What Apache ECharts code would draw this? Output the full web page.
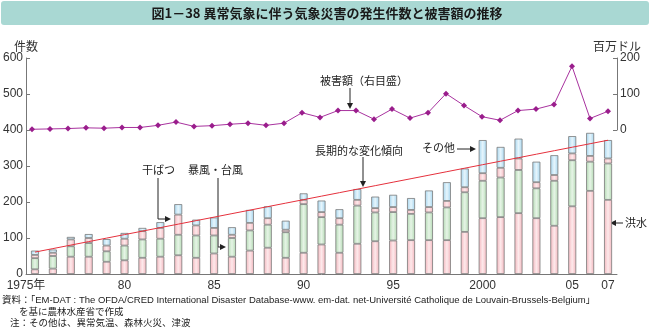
<!DOCTYPE html>
<html><head><meta charset="utf-8">
<script src="https://cdn.jsdelivr.net/npm/echarts@6/dist/echarts.min.js"></script>
<style>html,body{margin:0;padding:0;background:#fff}#c{width:650px;height:332px}</style>
</head><body><div id="c"></div>
<script>
const years = ['1975','1976','1977','1978','1979','1980','1981','1982','1983','1984','1985','1986','1987','1988','1989','1990','1991','1992','1993','1994','1995','1996','1997','1998','1999','2000','2001','2002','2003','2004','2005','2006','2007'];
const xTickLabels = ['1975年','','','','','80','','','','','85','','','','','90','','','','','95','','','','','2000','','','','','05','','07'];
const floods  = [13,15,48,48,34,38,45,48,52,45,57,48,65,73,45,59,82,59,84,91,93,94,94,94,117,155,158,169,155,134,188,231,206];
const storms  = [31,35,29,38,29,41,51,50,57,62,50,52,56,64,71,135,76,78,106,80,79,73,77,91,110,104,110,120,83,125,128,81,101];
const drought = [9,9,19,14,16,19,23,30,56,28,21,9,21,18,7,12,14,18,16,12,14,11,15,18,14,21,27,32,17,16,19,16,14];
const other   = [12,9,7,11,18,16,9,16,29,16,29,21,36,33,25,18,32,25,30,32,34,33,46,52,52,92,58,55,57,55,48,64,51];
const damage  = [2,3,4,6,5,7,7,13,22,10,12,16,19,13,19,48,35,54,54,30,58,33,48,101,68,37,27,54,58,71,177,32,52];
const countTicks = [0,100,200,300,400,500,600];
const damageTicks = [0,100,200];

// linear trend of total counts (least squares)
const totals = years.map((_, i) => floods[i] + storms[i] + drought[i] + other[i]);
const n = totals.length;
const mx = (n - 1) / 2;
const my = totals.reduce((a, b) => a + b, 0) / n;
let sxy = 0, sxx = 0;
totals.forEach((y, i) => { sxy += (i - mx) * (y - my); sxx += (i - mx) * (i - mx); });
const slope = sxy / sxx;
const trend = totals.map((_, i) => +(my + slope * (i - mx)).toFixed(2));

const FONT = '"Liberation Sans","Noto Sans CJK JP",sans-serif';
const JFONT = '"Noto Sans CJK JP",sans-serif';

function grad(edge, center) {
  return new echarts.graphic.LinearGradient(0, 0, 1, 0, [
    {offset: 0, color: edge}, {offset: 0.5, color: center}, {offset: 1, color: edge}]);
}
function barSeries(name, data, edge, center) {
  return {
    name, type: 'bar', stack: 'n', data, barWidth: 8, xAxisIndex: 0, yAxisIndex: 0,
    itemStyle: {color: grad(edge, center), borderColor: '#7a7a7a', borderWidth: 0.8},
    emphasis: {disabled: true}
  };
}
function txt(text, x, y, size, extra) {
  return Object.assign({type: 'text', silent: true, style: Object.assign({
    text, x, y, font: size + 'px ' + JFONT, fill: '#222',
    align: 'left', verticalAlign: 'middle', textAlign: 'left', textVerticalAlign: 'middle'}, extra || {})});
}
function line(points) {
  return {type: 'polyline', silent: true, shape: {points}, style: {stroke: '#222', lineWidth: 1, fill: null}};
}
function head(x, y, dir) {
  // dir: 'down','right','left'
  let pts;
  if (dir === 'down') pts = [[x - 3, y - 6], [x + 3, y - 6], [x, y]];
  else if (dir === 'right') pts = [[x - 6, y - 3], [x - 6, y + 3], [x, y]];
  else pts = [[x + 6, y - 3], [x + 6, y + 3], [x, y]];
  return {type: 'polygon', silent: true, shape: {points: pts}, style: {fill: '#222'}};
}

const chart = echarts.init(document.getElementById('c'), null, {renderer: 'canvas'});
const axisCommon = {
  axisLine: {show: true, lineStyle: {color: '#777', width: 1}},
  axisTick: {show: true, inside: true, length: 4, lineStyle: {color: '#777'}},
  splitLine: {show: false},
  axisLabel: {fontSize: 12, color: '#333', fontFamily: FONT, margin: 3},
};
chart.setOption({
  animation: false,
  textStyle: {fontFamily: FONT},
  grid: [
    {left: 23, right: 33, top: 58, bottom: 58},
    {left: 23, right: 33, top: 58, height: 72}
  ],
  xAxis: [
    {type: 'category', gridIndex: 0, data: years, boundaryGap: true,
     axisLine: {lineStyle: {color: '#777'}}, axisTick: {show: false},
     axisLabel: {interval: 0, fontSize: 12, color: '#333', fontFamily: FONT, margin: 6,
       formatter: (v, i) => i === 0 ? '{f|' + xTickLabels[i] + '}' : xTickLabels[i],
       rich: {f: {fontSize: 12, color: '#333', fontFamily: FONT, padding: [0, 18, 0, 0]}}}},
    {type: 'category', gridIndex: 1, data: years, boundaryGap: true, show: false}
  ],
  yAxis: [
    Object.assign({}, axisCommon, {type: 'value', gridIndex: 0, position: 'left',
      min: countTicks[0], max: countTicks[countTicks.length - 1], interval: 100,
      name: '件数', nameLocation: 'end', nameGap: 5,
      nameTextStyle: {fontSize: 12, color: '#333', fontFamily: JFONT, align: 'center'}}),
    Object.assign({}, axisCommon, {type: 'value', gridIndex: 1, position: 'right',
      min: damageTicks[0], max: damageTicks[damageTicks.length - 1], interval: 100,
      name: '百万ドル', nameLocation: 'end', nameGap: 5,
      nameTextStyle: {fontSize: 12, color: '#333', fontFamily: JFONT, align: 'center'}})
  ],
  series: [
    barSeries('洪水', floods, '#f3b6bd', '#fde9eb'),
    barSeries('暴風・台風', storms, '#b3dab3', '#e6f4e6'),
    barSeries('干ばつ', drought, '#f3b6bd', '#fde9eb'),
    barSeries('その他', other, '#a6d6ef', '#e6f5fc'),
    {name: '長期的な変化傾向', type: 'line', xAxisIndex: 0, yAxisIndex: 0, data: trend,
     symbol: 'none', lineStyle: {color: '#e5303c', width: 1}, z: 5, silent: true},
    {name: '被害額', type: 'line', xAxisIndex: 1, yAxisIndex: 1, data: damage,
     symbol: 'diamond', symbolSize: 6, itemStyle: {color: '#9a1d8c'},
     lineStyle: {color: '#a8329e', width: 1}, z: 6, silent: true}
  ],
  graphic: [
    {type: 'rect', silent: true, shape: {x: 1, y: 1, width: 648, height: 24, r: 3}, style: {fill: '#a9d8d3'}},
    txt('図1－38 異常気象に伴う気象災害の発生件数と被害額の推移', 327, 13, 13,
      {font: 'bold 13px ' + JFONT, align: 'center', textAlign: 'center', fill: '#1a1a1a'}),
    txt('被害額（右目盛）', 320, 81, 11),
    line([[350, 88], [350, 103]]), head(350, 109, 'down'),
    txt('長期的な変化傾向', 315, 151, 11),
    line([[363, 157], [363, 181]]), head(363, 187, 'down'),
    txt('その他', 422, 148, 11),
    line([[457, 149], [470, 149]]), head(476, 149, 'right'),
    txt('干ばつ', 142, 170, 11),
    line([[158, 178], [158, 219], [165, 219]]), head(171, 219, 'right'),
    txt('暴風・台風', 188, 170, 11),
    line([[218, 178], [218, 247], [220, 247]]), head(226, 247, 'right'),
    txt('洪水', 625, 223, 11),
    line([[616, 223], [623, 223]]), head(610, 223, 'left'),
    txt('資料：「EM-DAT : The OFDA/CRED International Disaster Database-www. em-dat. net-Université Catholique de Louvain-Brussels-Belgium」', 2, 300, 9.5,
      {font: '9.5px ' + FONT}),
    txt('を基に農林水産省で作成', 19, 311, 9.5),
    txt('注：その他は、異常気温、森林火災、津波', 10, 322, 9.5)
  ]
});
</script>
</body></html>
